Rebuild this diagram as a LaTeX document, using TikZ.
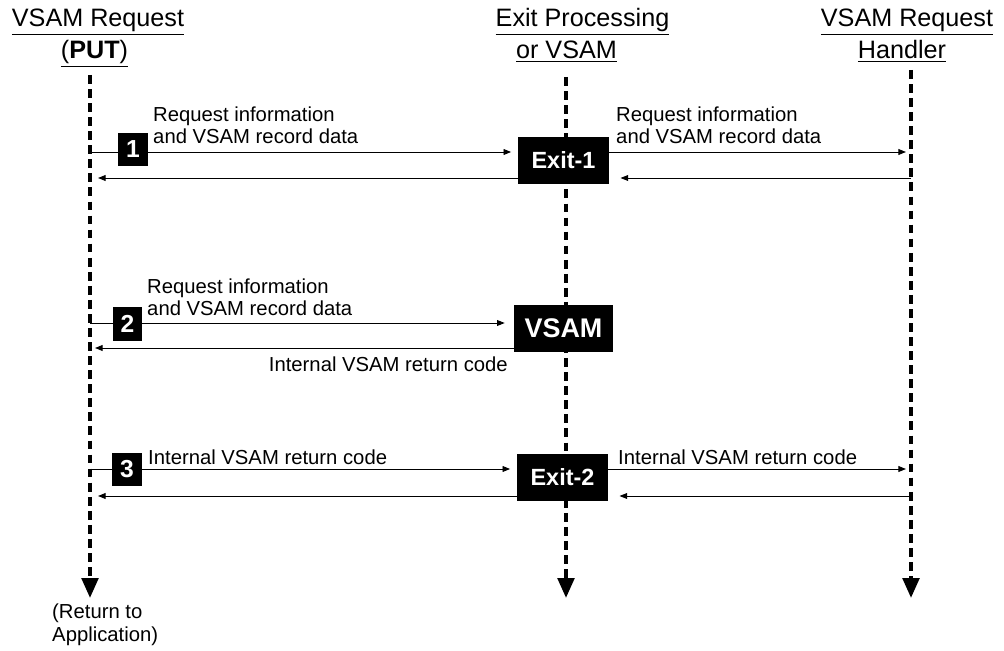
\documentclass[tikz,border=0pt]{standalone}
\usepackage{fontspec}
\setmainfont{Liberation Sans}
\usetikzlibrary{arrows.meta, positioning}

\begin{document}
\begin{tikzpicture}[
        x=0.03cm, y=-0.03cm,
        head/.style={inner sep=0pt, anchor=base, font=\fontsize{21.5}{27}\selectfont},
        lbl/.style={align=left, inner sep=0pt, font=\fontsize{17.3}{18.5}\selectfont},
        blk/.style={rectangle, fill=black, text=white, inner sep=0pt, minimum width=77pt, minimum height=40pt, font=\bfseries\fontsize{20}{24}\selectfont},
        num/.style={rectangle, fill=black, text=white, inner sep=0pt, minimum width=25pt, minimum height=29pt, font=\bfseries\fontsize{21}{24}\selectfont},
        life/.style={line width=3.4pt, dash pattern=on 7.5pt off 4.5pt, -{Triangle[length=17pt, width=14pt]}},
        msg/.style={line width=0.8pt, -{Triangle[length=6.5pt, width=5pt]}}
    ]
        \useasboundingbox (0,0) rectangle (1004,651);

        % Headers
        \node[head] (hdput) at (98,27) {\underline{VSAM Request}};
        \node[head] (hdputb) at (94.5,59) {\underline{(\textbf{PUT})}};
        \node[head] (hdexit) at (582.5,27) {\underline{Exit Processing}};
        \node[head] (hdexitb) at (566.5,59) {\underline{or VSAM}};
        \node[head] (hdhand) at (907,27) {\underline{VSAM Request}};
        \node[head] (hdhandb) at (902,59) {\underline{Handler}};

        % Lifelines
        \coordinate (puttop) at (90,75);
        \coordinate (putbot) at (90,598);
        \coordinate (exittop) at (566,77);
        \coordinate (exitbot) at (566,598);
        \coordinate (handtop) at (911,70);
        \coordinate (handbot) at (911,598);
        \draw[life] (puttop) -- (putbot);
        \draw[life] (exittop) -- (exitbot);
        \draw[life] (handtop) -- (handbot);

        % Message ends on the lifelines
        \coordinate (put1) at (90,152);
        \coordinate (put1r) at (98,178);
        \coordinate (hand1) at (906,152);
        \coordinate (hand1r) at (911,178);
        \coordinate (put2) at (90,323);
        \coordinate (put2r) at (95,348);
        \coordinate (put3) at (90,469);
        \coordinate (put3r) at (98,496);
        \coordinate (hand3) at (906,469);
        \coordinate (hand3r) at (911,496);

        % Processing boxes
        \node[blk] (exit1) at (563.5,160.5) {Exit-1};
        \node[blk, minimum width=84pt, font=\bfseries\fontsize{23}{27}\selectfont] (vsam) at (563.5,328.5) {VSAM};
        \node[blk] (exit2) at (562.5,477.5) {Exit-2};

        % Step 1
        \draw[msg, shorten >=6pt] (put1) -- (exit1.west |- put1);
        \draw[msg] (exit1.west |- put1r) -- (put1r);
        \draw[msg] (exit1.east |- put1) -- (hand1);
        \draw[msg, shorten >=10pt] (hand1r) -- (exit1.east |- hand1r);
        \node[num] (n1) at (133,149.5) {1};
        \node[lbl, anchor=south west] (req1) at (153,144) {Request information\\and VSAM record data};
        \node[lbl, anchor=south west] (req1b) at (616,144) {Request information\\and VSAM record data};

        % Step 2
        \draw[msg, shorten >=8pt] (put2) -- (vsam.west |- put2);
        \draw[msg] (vsam.west |- put2r) -- (put2r);
        \node[num] (n2) at (127.5,324) {2};
        \node[lbl, anchor=south west] (req2) at (147,316) {Request information\\and VSAM record data};
        \node[lbl, anchor=north east] (rc2) at (508,357) {Internal VSAM return code};

        % Step 3
        \draw[msg, shorten >=6pt] (put3) -- (exit2.west |- put3);
        \draw[msg] (exit2.west |- put3r) -- (put3r);
        \draw[msg] (exit2.east |- put3) -- (hand3);
        \draw[msg, shorten >=10pt] (hand3r) -- (exit2.east |- hand3r);
        \node[num] (n3) at (127,469.5) {3};
        \node[lbl, anchor=south west] (rc3) at (148,465) {Internal VSAM return code};
        \node[lbl, anchor=south west] (rc3b) at (618,465) {Internal VSAM return code};

        % Return to caller
        \node[lbl, anchor=north west, font=\fontsize{17.3}{19.5}\selectfont] (ret) at (52,604) {(Return to\\Application)};
    \end{tikzpicture}
\end{document}
